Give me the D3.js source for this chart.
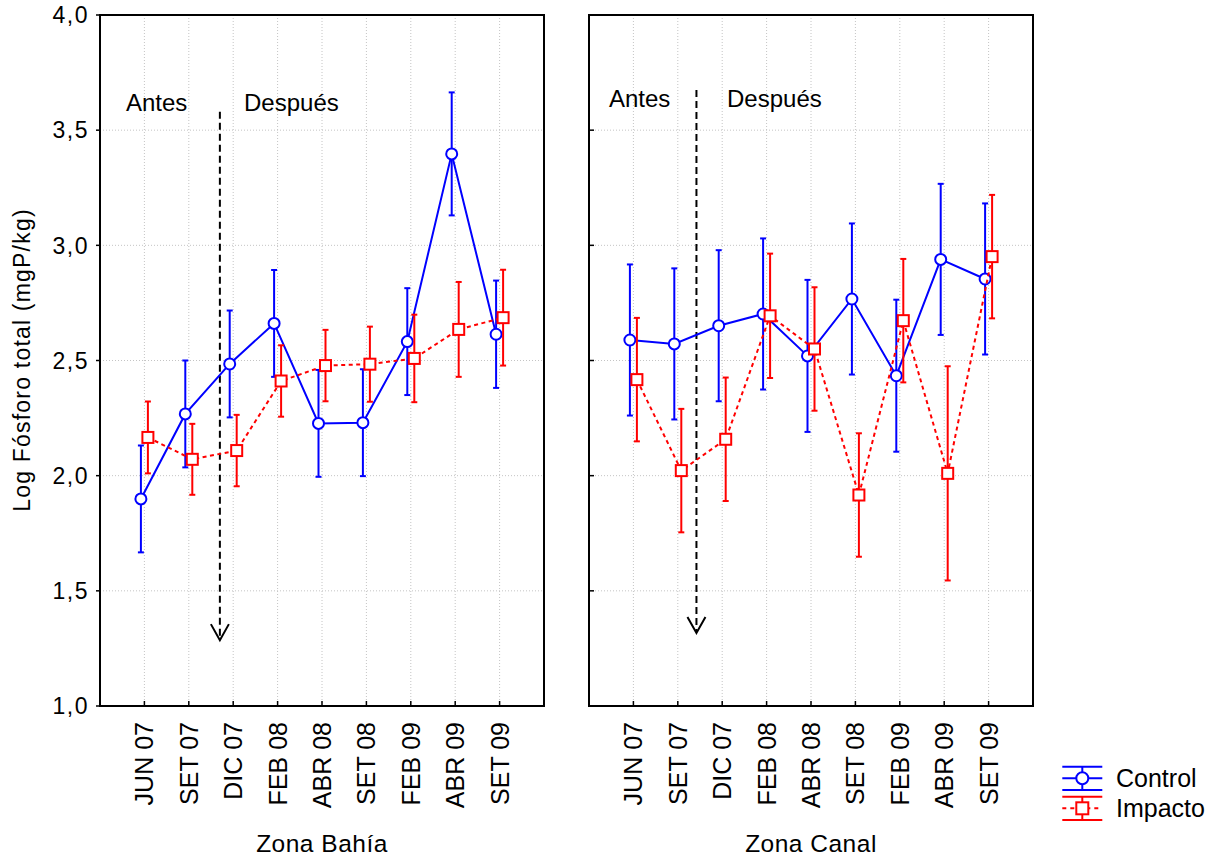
<!DOCTYPE html>
<html>
<head>
<meta charset="utf-8">
<script src="https://cdn.jsdelivr.net/npm/d3@7"></script>
<style>
  html, body { margin: 0; padding: 0; background: #fff; }
  svg { display: block; font-family: Arial, "Liberation Sans", sans-serif; }
</style>
</head>
<body>
<svg id="chart" width="1223" height="858"></svg>
<script>
// Sampling campaigns (shared by both zones)
const categories = ["JUN 07", "SET 07", "DIC 07", "FEB 08", "ABR 08", "SET 08", "FEB 09", "ABR 09", "SET 09"];

// Zona Bahía — means and half-widths of the error bars
const bahiaControl    = [1.899, 2.268, 2.485, 2.661, 2.227, 2.230, 2.582, 3.397, 2.614];
const bahiaControlErr = [0.232, 0.232, 0.232, 0.232, 0.232, 0.232, 0.232, 0.267, 0.233];
const bahiaImpacto    = [2.166, 2.071, 2.109, 2.411, 2.478, 2.484, 2.509, 2.635, 2.686];
const bahiaImpactoErr = [0.156, 0.154, 0.155, 0.155, 0.155, 0.163, 0.190, 0.206, 0.208];

// Zona Canal
const canalControl    = [2.589, 2.572, 2.651, 2.702, 2.520, 2.767, 2.434, 2.939, 2.854];
const canalControlErr = [0.328, 0.328, 0.328, 0.328, 0.330, 0.328, 0.330, 0.328, 0.328];
const canalImpacto    = [2.417, 2.022, 2.158, 2.694, 2.550, 1.916, 2.673, 2.010, 2.951];
const canalImpactoErr = [0.268, 0.268, 0.268, 0.270, 0.268, 0.268, 0.268, 0.465, 0.268];

// Y axis ticks
const yTicks = [1.0, 1.5, 2.0, 2.5, 3.0, 3.5, 4.0];
const yTickLabels = ["1,0", "1,5", "2,0", "2,5", "3,0", "3,5", "4,0"];

// Before/after marker: fractional category index, arrow start and tip values
const zoneNames = ["Zona Bahía", "Zona Canal"];
const arrowIndex = [1.70, 1.42];
const arrowTop = [3.58, 3.674];
const arrowTip = [1.286, 1.317];
const phaseLabels = ["Antes", "Después"];

const seriesNames = ["Control", "Impacto"];

const BLUE = "#0000ff", RED = "#ff0000";

const svg = d3.select("#chart");

const y = d3.scaleLinear().domain([1, 4]).range([706, 15]);

const panels = [
  { x0: 100, x1: 544, name: zoneNames[0],
    control: bahiaControl, controlErr: bahiaControlErr,
    impacto: bahiaImpacto, impactoErr: bahiaImpactoErr,
    arrowAt: arrowIndex[0], arrowTop: arrowTop[0], arrowTip: arrowTip[0],
    labelY: 110.7, antesX: 126, despuesX: 244, yLabels: true },
  { x0: 589, x1: 1033, name: zoneNames[1],
    control: canalControl, controlErr: canalControlErr,
    impacto: canalImpacto, impactoErr: canalImpactoErr,
    arrowAt: arrowIndex[1], arrowTop: arrowTop[1], arrowTip: arrowTip[1],
    labelY: 106.7, antesX: 609, despuesX: 727, yLabels: false }
];

panels.forEach(p => {
  const x = d3.scalePoint().domain(categories).range([p.x0, p.x1]).padding(1);
  const step = x.step();
  const g = svg.append("g");

  // dotted grid
  g.append("g").selectAll("line").data(categories).join("line")
    .attr("x1", d => x(d)).attr("x2", d => x(d))
    .attr("y1", y(4)).attr("y2", y(1))
    .attr("stroke", "#c4c4c4").attr("stroke-width", 1).attr("stroke-dasharray", "1,2");
  g.append("g").selectAll("line").data(yTicks.slice(1, -1)).join("line")
    .attr("x1", p.x0).attr("x2", p.x1)
    .attr("y1", d => y(d)).attr("y2", d => y(d))
    .attr("stroke", "#c4c4c4").attr("stroke-width", 1).attr("stroke-dasharray", "1,2");

  // y axis ticks
  const tickDir = p.yLabels ? -4 : 5;
  g.append("g").selectAll("line").data(yTicks).join("line")
    .attr("x1", p.x0).attr("x2", p.x0 + tickDir)
    .attr("y1", d => y(d)).attr("y2", d => y(d))
    .attr("stroke", "#000").attr("stroke-width", 1.5);
  if (p.yLabels) {
    g.append("g").selectAll("text").data(yTicks).join("text")
      .attr("x", 89).attr("y", d => y(d)).attr("dy", "0.36em")
      .attr("text-anchor", "end")
      .attr("font-size", 23).attr("letter-spacing", "1.5px")
      .text((d, i) => yTickLabels[i]);
  }

  // x axis ticks (inward) and rotated labels
  g.append("g").selectAll("line").data(categories).join("line")
    .attr("x1", d => x(d)).attr("x2", d => x(d))
    .attr("y1", y(1)).attr("y2", y(1) - 5)
    .attr("stroke", "#000").attr("stroke-width", 1.5);
  g.append("g").selectAll("text").data(categories).join("text")
    .attr("transform", d => `translate(${x(d)},722) rotate(-90)`)
    .attr("text-anchor", "end").attr("dy", "0.36em")
    .attr("font-size", 25)
    .text(d => d);

  // frame
  g.append("rect")
    .attr("x", p.x0).attr("y", y(4))
    .attr("width", p.x1 - p.x0).attr("height", y(1) - y(4))
    .attr("fill", "none").attr("stroke", "#000").attr("stroke-width", 2);

  // zone title
  g.append("text")
    .attr("x", (p.x0 + p.x1) / 2).attr("y", 852)
    .attr("text-anchor", "middle").attr("font-size", 24.5).attr("letter-spacing", "0.5px")
    .text(p.name);

  // before/after marker
  const ax = x(categories[0]) + p.arrowAt * step;
  const tipY = y(p.arrowTip);
  g.append("line")
    .attr("x1", ax).attr("x2", ax)
    .attr("y1", y(p.arrowTop)).attr("y2", tipY - 2)
    .attr("stroke", "#000").attr("stroke-width", 2).attr("stroke-dasharray", "7,4");
  g.append("path")
    .attr("d", `M${ax - 9},${tipY - 16} L${ax},${tipY} L${ax + 9},${tipY - 16}`)
    .attr("fill", "none").attr("stroke", "#000").attr("stroke-width", 2);
  g.append("text").attr("x", p.antesX).attr("y", p.labelY)
    .attr("font-size", 24).text(phaseLabels[0]);
  g.append("text").attr("x", p.despuesX).attr("y", p.labelY)
    .attr("font-size", 24).text(phaseLabels[1]);

  // series
  const series = [
    { vals: p.control, errs: p.controlErr, color: BLUE, dx: -3.5, dash: null, shape: "circle" },
    { vals: p.impacto, errs: p.impactoErr, color: RED, dx: 3.5, dash: "4,3.5", shape: "square" }
  ];
  series.forEach(s => {
    const pts = categories.map((c, i) => ({ x: x(c) + s.dx, v: s.vals[i], e: s.errs[i] }));
    const sg = g.append("g");
    // error bars
    const eb = sg.append("g").selectAll("g").data(pts).join("g")
      .attr("stroke", s.color).attr("stroke-width", 2);
    eb.append("line")
      .attr("x1", d => d.x).attr("x2", d => d.x)
      .attr("y1", d => y(d.v + d.e)).attr("y2", d => y(d.v - d.e));
    eb.append("line")
      .attr("x1", d => d.x - 3).attr("x2", d => d.x + 3)
      .attr("y1", d => y(d.v + d.e)).attr("y2", d => y(d.v + d.e));
    eb.append("line")
      .attr("x1", d => d.x - 3).attr("x2", d => d.x + 3)
      .attr("y1", d => y(d.v - d.e)).attr("y2", d => y(d.v - d.e));
    // connecting line
    sg.append("path")
      .datum(pts)
      .attr("d", d3.line().x(d => d.x).y(d => y(d.v)))
      .attr("fill", "none").attr("stroke", s.color).attr("stroke-width", 2)
      .attr("stroke-dasharray", s.dash);
    // markers
    if (s.shape === "circle") {
      sg.append("g").selectAll("circle").data(pts).join("circle")
        .attr("cx", d => d.x).attr("cy", d => y(d.v)).attr("r", 5.5)
        .attr("fill", "#fff").attr("stroke", s.color).attr("stroke-width", 2);
    } else {
      sg.append("g").selectAll("rect").data(pts).join("rect")
        .attr("x", d => d.x - 5.5).attr("y", d => y(d.v) - 5.5)
        .attr("width", 11).attr("height", 11)
        .attr("fill", "#fff").attr("stroke", s.color).attr("stroke-width", 2);
    }
  });
});

// y axis title
svg.append("text")
  .attr("transform", "translate(30,360) rotate(-90)")
  .attr("text-anchor", "middle").attr("font-size", 23).attr("letter-spacing", "1.2px")
  .text("Log Fósforo total (mgP/kg)");

// legend
const legend = svg.append("g");
const legendItems = [
  { name: seriesNames[0], color: BLUE, cy: 778.3, dash: null, shape: "circle" },
  { name: seriesNames[1], color: RED, cy: 808.3, dash: "4,4", shape: "square" }
];
legendItems.forEach(it => {
  const lg = legend.append("g").attr("stroke", it.color).attr("stroke-width", 2);
  const lx0 = 1062.3, lx1 = 1102.3, cx = 1082.3;
  lg.append("line").attr("x1", lx0).attr("x2", lx1).attr("y1", it.cy - 11.6).attr("y2", it.cy - 11.6);
  lg.append("line").attr("x1", lx0).attr("x2", lx1).attr("y1", it.cy + 11.6).attr("y2", it.cy + 11.6);
  lg.append("line").attr("x1", cx).attr("x2", cx).attr("y1", it.cy - 11.6).attr("y2", it.cy + 11.6);
  lg.append("line").attr("x1", lx0).attr("x2", lx1).attr("y1", it.cy).attr("y2", it.cy)
    .attr("stroke-dasharray", it.dash);
  if (it.shape === "circle") {
    lg.append("circle").attr("cx", cx).attr("cy", it.cy).attr("r", 6).attr("fill", "#fff");
  } else {
    lg.append("rect").attr("x", cx - 6).attr("y", it.cy - 6).attr("width", 12).attr("height", 12).attr("fill", "#fff");
  }
  legend.append("text").attr("x", 1116).attr("y", it.cy + 8.7)
    .attr("font-size", 25).text(it.name);
});
</script>
</body>
</html>
